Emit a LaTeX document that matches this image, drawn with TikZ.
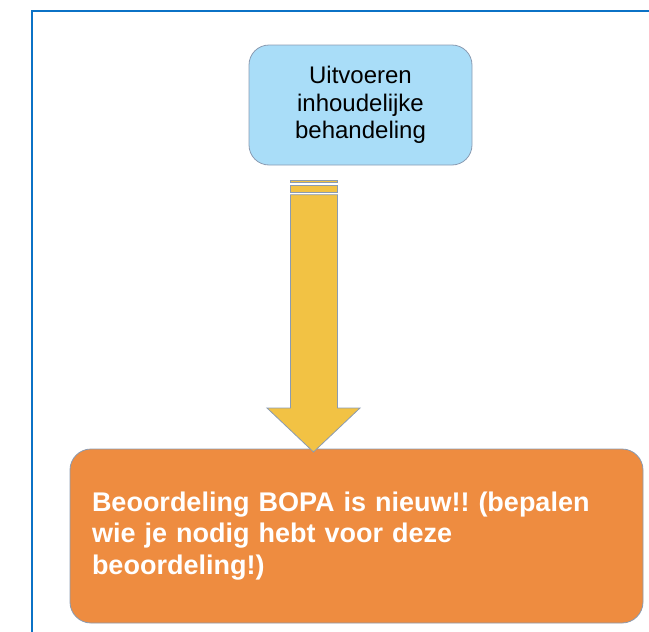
\documentclass[tikz,border=0pt]{standalone}
\usepackage{fontspec}
\setmainfont{Liberation Sans}
\frenchspacing
\definecolor{framebl}{HTML}{0B72C6}
\definecolor{boxblue}{HTML}{A9DDF8}
\definecolor{boxorange}{HTML}{EE8C40}
\definecolor{arrowgold}{HTML}{F2C244}
\definecolor{edgegray}{HTML}{8A9BB2}
\begin{document}
\begin{tikzpicture}[x=1pt,y=1pt,
  bluebox/.style={draw=edgegray, line width=0.8pt, fill=boxblue, rounded corners=20pt,
    minimum width=223pt, minimum height=120pt, inner sep=0pt, align=center,
    font=\fontsize{24}{27.5}\selectfont\frenchspacing, text=black},
  orangebox/.style={draw=edgegray, line width=0.8pt, fill=boxorange, rounded corners=21pt,
    minimum width=573pt, minimum height=174pt, inner sep=0pt, align=left, text width=529pt,
    font=\fontsize{27}{31.5}\selectfont\bfseries\frenchspacing, text=white},
  goldpart/.style={draw=edgegray, line width=0.8pt, fill=arrowgold}
]
\useasboundingbox (0,0) rectangle (649,-632);
% frame
\draw[framebl, line width=2.5pt] (32,-632) -- (32,-11) -- (649,-11);
% boxes
\node[bluebox] (a) at (360.5,-105) {Uitvoeren\\inhoudelijke\\behandeling};
\node[orangebox] (b) at (356.5,-536) {Beoordeling BOPA is nieuw!! (bepalen\\wie je nodig hebt voor deze\\beoordeling!)};
% block arrow from a to b
\coordinate (tip) at (313.5,-452);
\draw[goldpart] (290.5,-180) rectangle (337.5,-182.7);
\draw[goldpart] (290.5,-185.3) rectangle (337.5,-192);
\draw[goldpart, line join=miter] (290.5,-194.7) -- (337.5,-194.7) -- (337.5,-408) -- (360,-408)
  -- (tip) -- (267,-408) -- (290.5,-408) -- cycle;
\end{tikzpicture}
\end{document}
